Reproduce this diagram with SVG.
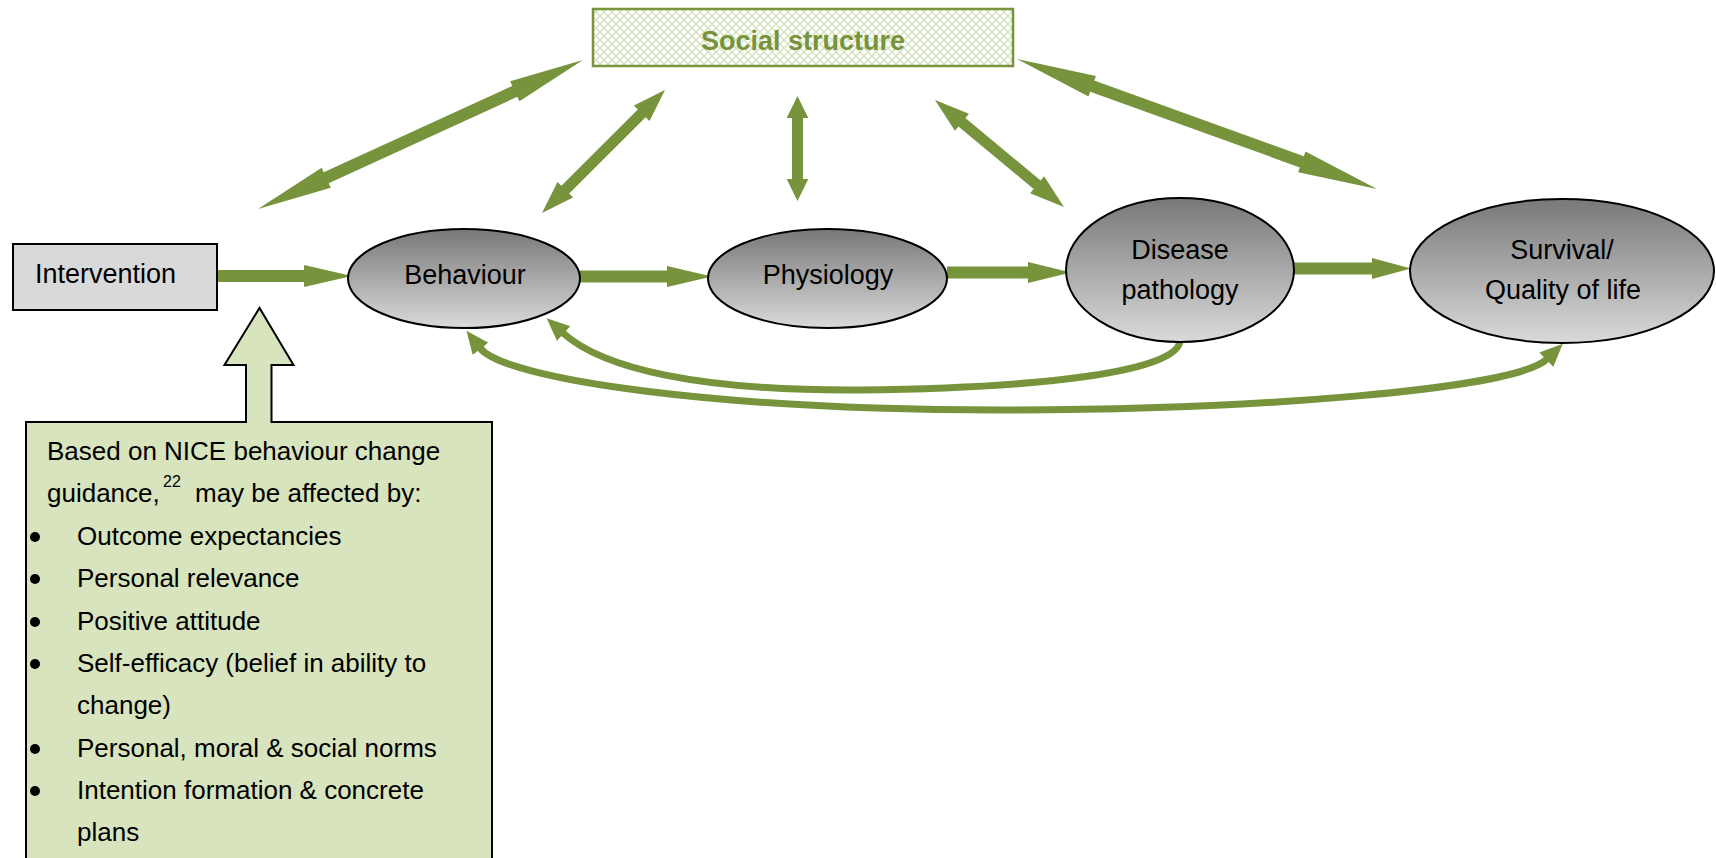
<svg xmlns="http://www.w3.org/2000/svg" width="1716" height="858" viewBox="0 0 1716 858">
<style>
.t{font-family:"Liberation Sans",Arial,sans-serif;fill:#000;}
.node{font-size:27px;text-anchor:middle;}
.cl{font-size:26px;}
.oval{fill:url(#grey);stroke:#000;stroke-width:2;}
.arr{fill:#77933c;stroke:none;}
.curve{fill:none;stroke:#77933c;stroke-width:7;}
</style>
<defs>
<linearGradient id="grey" x1="0" y1="0" x2="0" y2="1">
<stop offset="0" stop-color="#787878"/>
<stop offset="1" stop-color="#dadada"/>
</linearGradient>
<pattern id="lattice" width="8" height="8" patternUnits="userSpaceOnUse">
<rect width="8" height="8" fill="#ffffff"/>
<path d="M0,0 L8,8 M8,0 L0,8" stroke="#d3e2bb" stroke-width="1.3"/>
</pattern>
<marker id="head" markerUnits="userSpaceOnUse" viewBox="-1 -12 25 24" markerWidth="25" markerHeight="24" refX="0" refY="0" orient="auto-start-reverse">
<path d="M-1,-10 L22,0 L-1,10 Z" fill="#77933c"/>
</marker>
</defs>
<rect width="1716" height="858" fill="#ffffff"/>

<g id="connectors">
<polygon class="arr" points="217,270 304,270 304,265 352,276 304,287 304,282 217,282"/>
<polygon class="arr" points="580,270.5 667,270.5 667,266 712,276.5 667,287 667,282.5 580,282.5"/>
<polygon class="arr" points="947,266.5 1028,266.5 1028,262 1071,272.5 1028,283 1028,278.5 947,278.5"/>
<polygon class="arr" points="1294,262.5 1372,262.5 1372,258 1411,268.5 1372,279 1372,274.5 1294,274.5"/>
<polygon class="arr" points="258,209 321.6,167.7 323.7,172.3 512.3,85.9 510.2,81.3 583,60 519.4,101.3 517.3,96.8 328.7,183.2 330.8,187.7"/>
<polygon class="arr" points="542,213 557.5,181.9 561.4,185.8 637.8,109.4 633.9,105.5 665,90 649.5,121.1 645.6,117.2 569.2,193.6 573.1,197.5"/>
<polygon class="arr" points="797.5,96 808.3,118 803,118 803,179 808.3,179 797.5,201 786.7,179 792,179 792,118 786.7,118"/>
<polygon class="arr" points="935,100 968.9,113.8 965.4,118.1 1040.6,180.5 1044.1,176.2 1064,207 1030.1,193.2 1033.6,188.9 958.4,126.5 954.9,130.8"/>
<polygon class="arr" points="1017,59 1095.9,75.9 1094.2,80.6 1303.8,156.2 1305.5,151.5 1377,189 1298.1,172.2 1299.8,167.4 1090.2,91.8 1088.5,96.5"/>
<path class="curve" d="M 1180 340 C 1180 372, 1040 388, 860 390 C 700 391, 603 369, 563 333" marker-end="url(#head)"/>
<path class="curve" d="M 480 348 C 505 380, 720 410, 1000 410 C 1250 410, 1515 390, 1547 359" marker-start="url(#head)" marker-end="url(#head)"/>
</g>

<g id="social-structure">
<rect x="593" y="9" width="420" height="57" fill="url(#lattice)" stroke="#77933c" stroke-width="2.5"/>
<text class="t" x="803" y="50" font-size="27" font-weight="bold" text-anchor="middle" style="fill:#77933c">Social structure</text>
</g>

<g id="intervention">
<rect x="13" y="244" width="204" height="66" fill="#d9d9d9" stroke="#000" stroke-width="2"/>
<text class="t" x="35" y="283" font-size="27">Intervention</text>
</g>

<g id="behaviour">
<ellipse class="oval" cx="464" cy="278.5" rx="116" ry="49.5"/>
<text class="t node" x="465" y="284">Behaviour</text>
</g>

<g id="physiology">
<ellipse class="oval" cx="827.5" cy="278.5" rx="119.5" ry="49.5"/>
<text class="t node" x="828" y="284">Physiology</text>
</g>

<g id="disease">
<ellipse class="oval" cx="1180" cy="270" rx="114" ry="72"/>
<text class="t node" x="1180" y="259">Disease</text>
<text class="t node" x="1180" y="299">pathology</text>
</g>

<g id="survival">
<ellipse class="oval" cx="1562" cy="271" rx="152" ry="72"/>
<text class="t node" x="1562" y="259">Survival/</text>
<text class="t node" x="1563" y="299">Quality of life</text>
</g>

<g id="callout">
<path d="M 26 422 H 246 V 365 H 224.5 L 259.5 308 L 293.5 365 H 271.5 V 422 H 492 V 875 H 26 Z" fill="#d7e4bd" stroke="#000" stroke-width="2"/>
<text class="t cl" x="47" y="460">Based on NICE behaviour change</text>
<text class="t cl" x="47" y="502">guidance,</text>
<text class="t" x="163" y="487" font-size="16">22</text>
<text class="t cl" x="195" y="502">may be affected by:</text>
<circle cx="35" cy="537" r="5"/>
<text class="t cl" x="77" y="545">Outcome expectancies</text>
<circle cx="35" cy="579" r="5"/>
<text class="t cl" x="77" y="587">Personal relevance</text>
<circle cx="35" cy="622" r="5"/>
<text class="t cl" x="77" y="630">Positive attitude</text>
<circle cx="35" cy="664" r="5"/>
<text class="t cl" x="77" y="672">Self-efficacy (belief in ability to</text>
<text class="t cl" x="77" y="714">change)</text>
<circle cx="35" cy="749" r="5"/>
<text class="t cl" x="77" y="757">Personal, moral &amp; social norms</text>
<circle cx="35" cy="791" r="5"/>
<text class="t cl" x="77" y="799">Intention formation &amp; concrete</text>
<text class="t cl" x="77" y="841">plans</text>
</g>
</svg>
